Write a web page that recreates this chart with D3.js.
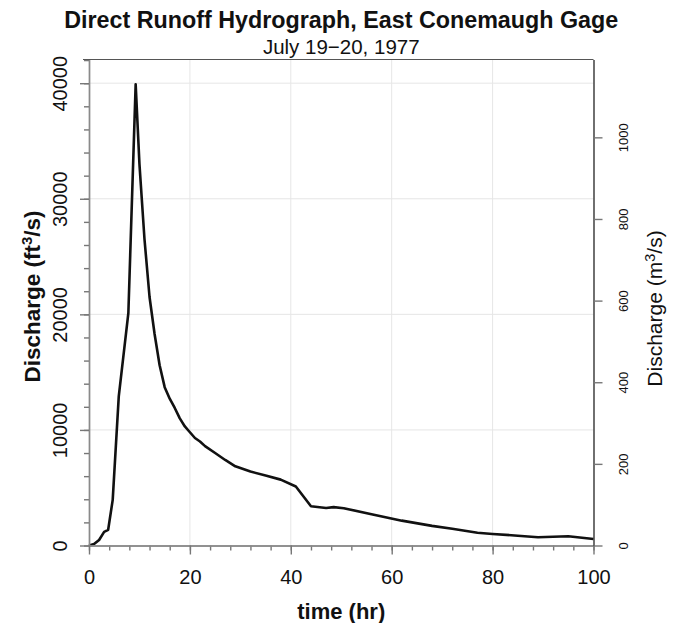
<!DOCTYPE html>
<html>
<head>
<meta charset="utf-8">
<script src="https://cdn.jsdelivr.net/npm/d3@7"></script>
<style>
  html, body { margin: 0; padding: 0; background: #fff; }
  svg { display: block; font-family: "Liberation Sans", Arial, Helvetica, sans-serif; }
</style>
</head>
<body>
<svg id="chart" width="681" height="623"></svg>
<script>
// ---- data ----
const timeHr = [0, 1, 2, 3, 3.8, 4.7, 5.9, 7.8, 9.25, 10, 11, 12, 13, 14, 15, 16, 17, 18, 19, 20, 21, 22, 23, 25, 27, 29, 32, 35, 38, 41, 44, 47, 48.5, 50.5, 56, 62, 68, 72, 77, 80, 85, 89, 92, 95, 100];
const dischargeCfs = [0, 120, 480, 1180, 1360, 3950, 12900, 20100, 39900, 33000, 26500, 21500, 18300, 15600, 13700, 12700, 11900, 11000, 10300, 9800, 9300, 9000, 8600, 8000, 7400, 6850, 6400, 6050, 5700, 5100, 3400, 3250, 3320, 3230, 2700, 2150, 1700, 1450, 1100, 1000, 850, 720, 760, 800, 560];

const xMajorTicks = [0, 20, 40, 60, 80, 100];
const xMinorTicks = d3.range(0, 101, 4);
const yMajorTicks = [0, 10000, 20000, 30000, 40000];
const yMinorTicks = d3.range(0, 42001, 2000);
const yRightTicks = [0, 200, 400, 600, 800, 1000];
const xGrid = [20, 40, 60, 80];
const yGrid = [10000, 20000, 30000, 40000];

const titleText = "Direct Runoff Hydrograph, East Conemaugh Gage";
const subtitleText = "July 19\u221220, 1977";
const CFS_PER_CMS = 35.3147;
const xDomain = [0, 100];
const yDomain = [0, 42050];

// ---- layout ----
const L = 89, R = 593.5, T = 59.5, B = 545.5;
const svg = d3.select("#chart");

const x = d3.scaleLinear().domain(xDomain).range([L, R]);
const y = d3.scaleLinear().domain(yDomain).range([B, T]);
const y2 = d3.scaleLinear().domain([yDomain[0] / CFS_PER_CMS, yDomain[1] / CFS_PER_CMS]).range([B, T]);

// grid
svg.append("g").selectAll("line").data(xGrid).join("line")
  .attr("x1", d => x(d)).attr("x2", d => x(d)).attr("y1", T).attr("y2", B)
  .attr("stroke", "#e6e6e6").attr("stroke-width", 1);
svg.append("g").selectAll("line").data(yGrid).join("line")
  .attr("x1", L).attr("x2", R).attr("y1", d => y(d)).attr("y2", d => y(d))
  .attr("stroke", "#e6e6e6").attr("stroke-width", 1);

// top border
svg.append("line").attr("x1", L - 6).attr("x2", R).attr("y1", T).attr("y2", T)
  .attr("stroke", "#555").attr("stroke-width", 1.2);

// line
const line = d3.line().x((d, i) => x(timeHr[i])).y(d => y(d));
svg.append("path").datum(dischargeCfs)
  .attr("d", line).attr("fill", "none").attr("stroke", "#111")
  .attr("stroke-width", 2.6).attr("stroke-linejoin", "round");

function styleAxis(g, col, lineCol) {
  g.select(".domain").attr("stroke", lineCol).attr("stroke-width", 1.4);
  g.selectAll(".tick line").attr("stroke", col).attr("stroke-width", 1.4);
}

// left axis: minor then major
svg.append("g").attr("transform", `translate(${L},0)`)
  .call(d3.axisLeft(y).tickValues(yMinorTicks).tickSize(5).tickSizeOuter(0).tickFormat(""))
  .call(g => styleAxis(g, "#777", "#8a8a8a"));
const leftAx = svg.append("g").attr("transform", `translate(${L},0)`)
  .call(d3.axisLeft(y).tickValues(yMajorTicks).tickSize(9).tickSizeOuter(0).tickFormat(d3.format("d")))
  .call(g => styleAxis(g, "#777", "#8a8a8a"));
leftAx.selectAll(".tick text")
  .attr("transform", "rotate(-90)").attr("x", 0).attr("y", -22).attr("dy", 0)
  .attr("text-anchor", "middle").attr("font-size", 20).attr("font-family", null).attr("fill", "#111");

// bottom axis
svg.append("g").attr("transform", `translate(0,${B})`)
  .call(d3.axisBottom(x).tickValues(xMinorTicks).tickSize(5).tickSizeOuter(0).tickFormat(""))
  .call(g => styleAxis(g, "#777", "#8a8a8a"));
const botAx = svg.append("g").attr("transform", `translate(0,${B})`)
  .call(d3.axisBottom(x).tickValues(xMajorTicks).tickSize(9).tickSizeOuter(0).tickFormat(d3.format("d")))
  .call(g => styleAxis(g, "#777", "#8a8a8a"));
botAx.selectAll(".tick text")
  .attr("y", 38).attr("dy", 0).attr("font-size", 20).attr("font-family", null).attr("fill", "#111");

// right axis
const rightAx = svg.append("g").attr("transform", `translate(${R},0)`)
  .call(d3.axisRight(y2).tickValues(yRightTicks).tickSize(9).tickSizeOuter(0).tickFormat(d3.format("d")))
  .call(g => styleAxis(g, "#777", "#333"));
rightAx.selectAll(".tick text")
  .attr("transform", "rotate(-90)").attr("x", 0).attr("y", 34).attr("dy", 0)
  .attr("text-anchor", "middle").attr("font-size", 13).attr("font-family", null).attr("fill", "#111");

// titles
svg.append("text").attr("x", (L + R) / 2).attr("y", 28).attr("text-anchor", "middle")
  .attr("font-size", 23.3).attr("font-weight", "bold").attr("fill", "#111").text(titleText);
svg.append("text").attr("x", (L + R) / 2).attr("y", 54).attr("text-anchor", "middle")
  .attr("font-size", 20.5).attr("fill", "#111").text(subtitleText);

svg.append("text").attr("x", (L + R) / 2).attr("y", 619).attr("text-anchor", "middle")
  .attr("font-size", 22).attr("font-weight", "bold").attr("fill", "#111").text("time (hr)");

// left y title with superscript
const lt = svg.append("text").attr("transform", `translate(40,${(T + B) / 2 - 6}) rotate(-90)`)
  .attr("text-anchor", "middle").attr("font-size", 22.5).attr("font-weight", "bold").attr("fill", "#111");
lt.append("tspan").text("Discharge (ft");
lt.append("tspan").attr("dy", -8).attr("font-size", 15).text("3");
lt.append("tspan").attr("dy", 8).text("/s)");

// right y title with superscript
const rt = svg.append("text").attr("transform", `translate(662,${(T + B) / 2 + 6}) rotate(-90)`)
  .attr("text-anchor", "middle").attr("font-size", 21).attr("fill", "#111");
rt.append("tspan").text("Discharge (m");
rt.append("tspan").attr("dy", -7).attr("font-size", 14.5).text("3");
rt.append("tspan").attr("dy", 7).text("/s)");
</script>
</body>
</html>
